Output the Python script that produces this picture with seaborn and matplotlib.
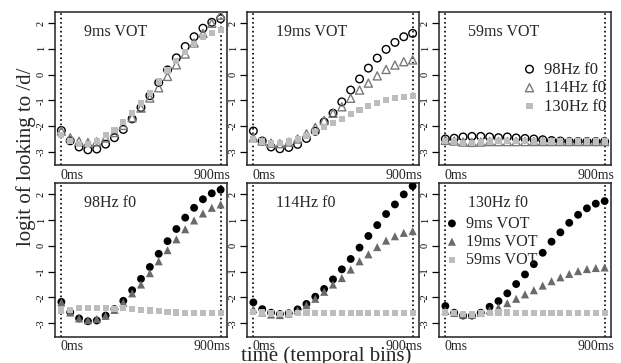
import pandas as pd
import seaborn as sns
import matplotlib.pyplot as plt
import numpy as np

# time bins (ms)
time_ms = [0, 50, 100, 150, 200, 250, 300, 350, 400, 450, 500, 550, 600, 650, 700, 750, 800, 850, 900]

vot_levels = ['9ms', '19ms', '59ms']
f0_levels = ['98Hz', '114Hz', '130Hz']

# logit of looking to /d/, one series per VOT x f0 cell
vot9_f98 = [-2.17, -2.57, -2.81, -2.92, -2.89, -2.70, -2.45, -2.13, -1.72, -1.28, -0.82, -0.31, 0.18, 0.65, 1.09, 1.47, 1.80, 2.03, 2.17]
vot9_f114 = [-2.19, -2.45, -2.59, -2.64, -2.61, -2.46, -2.25, -1.97, -1.67, -1.30, -0.91, -0.51, -0.07, 0.38, 0.80, 1.23, 1.60, 1.99, 2.31]
vot9_f130 = [-2.33, -2.59, -2.70, -2.70, -2.59, -2.36, -2.14, -1.84, -1.48, -1.11, -0.71, -0.27, 0.16, 0.52, 0.89, 1.20, 1.45, 1.63, 1.73]
vot19_f98 = [-2.19, -2.58, -2.81, -2.88, -2.83, -2.71, -2.48, -2.20, -1.84, -1.50, -1.06, -0.60, -0.17, 0.25, 0.64, 0.98, 1.25, 1.47, 1.60]
vot19_f114 = [-2.45, -2.58, -2.66, -2.68, -2.62, -2.50, -2.30, -2.05, -1.78, -1.50, -1.25, -0.92, -0.60, -0.33, -0.05, 0.20, 0.37, 0.50, 0.57]
vot19_f130 = [-2.52, -2.60, -2.67, -2.67, -2.60, -2.50, -2.38, -2.22, -2.05, -1.88, -1.72, -1.54, -1.37, -1.22, -1.09, -0.98, -0.90, -0.86, -0.84]
vot59_f98 = [-2.50, -2.47, -2.42, -2.40, -2.40, -2.42, -2.45, -2.42, -2.46, -2.48, -2.50, -2.53, -2.56, -2.58, -2.60, -2.60, -2.60, -2.60, -2.60]
vot59_f114 = [-2.55, -2.58, -2.62, -2.63, -2.62, -2.60, -2.60, -2.60, -2.60, -2.60, -2.60, -2.60, -2.60, -2.60, -2.60, -2.60, -2.60, -2.60, -2.60]
vot59_f130 = [-2.58, -2.60, -2.65, -2.66, -2.62, -2.60, -2.58, -2.58, -2.59, -2.59, -2.60, -2.60, -2.60, -2.60, -2.60, -2.60, -2.60, -2.60, -2.60]

cells = {
    ('9ms', '98Hz'): vot9_f98, ('9ms', '114Hz'): vot9_f114, ('9ms', '130Hz'): vot9_f130,
    ('19ms', '98Hz'): vot19_f98, ('19ms', '114Hz'): vot19_f114, ('19ms', '130Hz'): vot19_f130,
    ('59ms', '98Hz'): vot59_f98, ('59ms', '114Hz'): vot59_f114, ('59ms', '130Hz'): vot59_f130,
}
rows = []
for (vot, f0), vals in cells.items():
    for t, v in zip(time_ms, vals):
        rows.append({'time': t, 'vot': vot, 'f0': f0, 'logit': v})
df = pd.DataFrame(rows)

sns.set_theme(style="ticks")
plt.rcParams['font.family'] = ['Liberation Serif', 'DejaVu Serif']

# marker styles: top row (by f0, open), bottom row (by VOT, filled)
f0_style = {
    '98Hz': dict(marker='o', s=30, facecolors='none', edgecolor='black', linewidth=1.0),
    '114Hz': dict(marker='^', s=34, facecolors='none', edgecolor='#7a7a7a', linewidth=1.0),
    '130Hz': dict(marker='s', s=20, color='#bdbdbd', edgecolor='none', linewidth=0),
}
vot_style = {
    '9ms': dict(marker='o', s=32, color='black', edgecolor='none', linewidth=0),
    '19ms': dict(marker='^', s=34, color='#6a6a6a', edgecolor='none', linewidth=0),
    '59ms': dict(marker='s', s=20, color='#bdbdbd', edgecolor='none', linewidth=0),
}

fig = plt.figure(figsize=(6.21, 3.63), dpi=100)
lefts = [55 / 621, 247 / 621, 439 / 621]
w = 172 / 621
top_row = (1 - 165 / 363, 153 / 363)
bot_row = (1 - 336.5 / 363, 153.5 / 363)

def style_panel(ax, title):
    ax.set_xlim(-36, 936)
    ax.set_ylim(-3.51, 2.43)
    ax.axvline(0, color='black', ls=':', lw=1.2, zorder=0)
    ax.axvline(900, color='black', ls=':', lw=1.2, zorder=0)
    ax.set_xticks([])
    ax.set_yticks([-3, -2, -1, 0, 1, 2])
    ax.set_yticklabels(['-3', '-2', '-1', '0', '1', '2'], rotation=90, va='center')
    ax.tick_params(axis='y', length=5, width=0.9, pad=1.5, labelsize=7.5, colors='black')
    for sp in ax.spines.values():
        sp.set_visible(True)
        sp.set_color('#222222')
        sp.set_linewidth(1.1)
    ax.set_xlabel('')
    ax.set_ylabel('')
    ax.text(0.168, 0.87, title, transform=ax.transAxes, ha='left', va='center', fontsize=11.5)
    ax.text(0.03, -0.025, '0ms', transform=ax.transAxes, ha='left', va='top', fontsize=10)
    ax.text(1.02, -0.025, '900ms', transform=ax.transAxes, ha='right', va='top', fontsize=10)

# top row: one panel per VOT, series by f0
for i, vot in enumerate(vot_levels):
    ax = fig.add_axes([lefts[i], top_row[0], w, top_row[1]])
    for f0 in f0_levels:
        sub = df[(df['vot'] == vot) & (df['f0'] == f0)]
        sns.scatterplot(data=sub, x='time', y='logit', ax=ax, legend=False,
                        label=f0 + ' f0', zorder=3, **f0_style[f0])
    style_panel(ax, vot + ' VOT')
    if vot == '59ms':
        leg = ax.legend(handles=ax.collections[:3], labels=[f + ' f0' for f in f0_levels],
                        loc='center left', bbox_to_anchor=(0.497, 0.503), frameon=False,
                        fontsize=12, handlelength=0.6, handletextpad=0.55,
                        labelspacing=0.15, borderpad=0, borderaxespad=0)
        for t in leg.get_texts():
            t.set_clip_box(ax.bbox)
            t.set_clip_on(True)

# bottom row: one panel per f0, series by VOT
for i, f0 in enumerate(f0_levels):
    ax = fig.add_axes([lefts[i], bot_row[0], w, bot_row[1]])
    for vot in vot_levels:
        sub = df[(df['vot'] == vot) & (df['f0'] == f0)]
        sns.scatterplot(data=sub, x='time', y='logit', ax=ax, legend=False,
                        label=vot + ' VOT', zorder=3, **vot_style[vot])
    style_panel(ax, f0 + ' f0')
    if f0 == '130Hz':
        ax.legend(handles=ax.collections[:3], labels=[v + ' VOT' for v in vot_levels],
                  loc='center left', bbox_to_anchor=(0.047, 0.616), frameon=False,
                  fontsize=11.6, handlelength=0.6, handletextpad=0.57,
                  labelspacing=0.14, borderpad=0, borderaxespad=0)

fig.text(26 / 621, 1 - 157 / 363, 'logit of looking to /d/', rotation=90,
         ha='center', va='center', fontsize=15)
fig.text(326.5 / 621, 1 - 361 / 363, 'time (temporal bins)', ha='center',
         va='baseline', fontsize=15)

fig.savefig('out.png', dpi=100)
